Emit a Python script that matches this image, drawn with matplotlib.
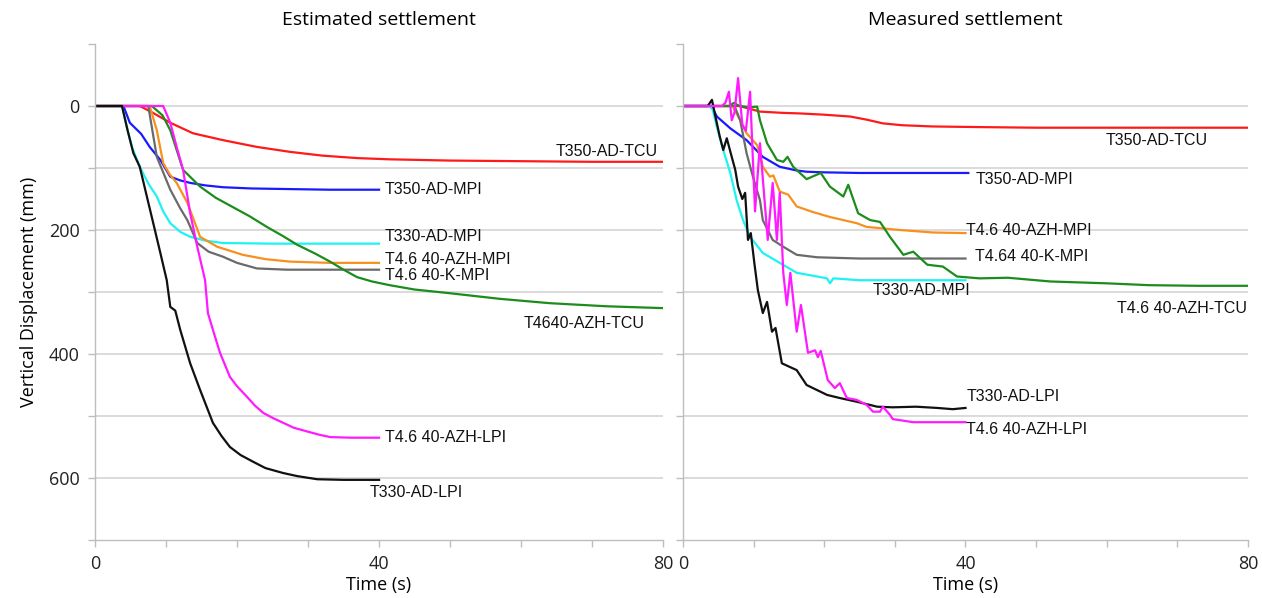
#!/usr/bin/env python3
"""Estimated vs measured settlement curves (two panels)."""

import matplotlib

matplotlib.use("Agg")
import matplotlib.pyplot as plt
from matplotlib.ticker import MultipleLocator

# ---- estimated settlement (left panel) ----
est_red_t = [0, 6.3, 8, 10.6, 13.8, 18, 22.8, 27.5, 32, 36.9, 41.5, 50, 60, 70, 80]
est_red_y = [0, 0, 10, 27, 44, 55, 66, 74, 80, 84, 86, 88, 89, 90, 90]

est_blue_t = [0, 4, 4.9, 6.5, 7.7, 9.2, 10.6, 12, 13.4, 15.5, 18, 22, 27.5, 33, 40]
est_blue_y = [0, 0, 27, 45, 66, 87, 114, 120, 124, 128, 131, 133, 134, 135, 135]

est_cyan_t = [0, 3.8, 4.5, 5.2, 6.3, 7.5, 8.7, 9.6, 10.6, 12, 13.4, 15.5, 18, 25, 40]
est_cyan_y = [0, 0, 35, 66, 98, 125, 146, 170, 189, 203, 211, 217, 221, 222, 222]

est_orange_t = [0, 7.7, 8.7, 9.6, 10.5, 11.5, 13, 14.8, 17.2, 20.8, 24, 27.5, 33, 40]
est_orange_y = [0, 0, 39, 92, 110, 124, 156, 211, 227, 240, 247, 251, 253, 253]

est_gray_t = [0, 7.5, 8.7, 10.6, 12, 13, 14.4, 16, 18, 20, 22.8, 27, 33, 40]
est_gray_y = [0, 0, 82, 135, 165, 184, 221, 235, 243, 253, 262, 264, 264, 264]

est_green_t = [0, 8, 9.5, 10.6, 12.4, 14.8, 17, 19.4, 21.8, 24.2, 26.5, 28.5, 31,
               33.1, 35, 36.9, 39, 41.5, 45, 50, 57, 64, 72, 80]
est_green_y = [0, 0, 15, 39, 103, 130, 148, 163, 178, 195, 210, 224, 238,
               251, 264, 276, 283, 289, 296, 302, 311, 318, 323, 326]

est_magenta_t = [0, 9.6, 10.6, 11.5, 12.4, 13.4, 14.4, 15.5, 15.9, 16.6, 17.6, 19,
                 20, 21.4, 22.5, 23.7, 25, 26.5, 28, 29.9, 31.5, 33.1, 36, 40]
est_magenta_y = [0, 0, 27, 66, 103, 173, 227, 281, 334, 361, 398, 437,
                 452, 469, 483, 495, 503, 511, 519, 525, 530, 534, 535, 535]

est_black_t = [0, 3.8, 4.6, 5.4, 6.3, 7.3, 8.2, 9.2, 10.1, 10.6, 11.3, 12, 13.4,
               14.8, 16.6, 17.8, 19, 20.5, 22.3, 24, 26.5, 28.5, 31.3, 35, 40]
est_black_y = [0, 0, 40, 76, 98, 146, 189, 237, 281, 324, 330, 361, 415,
               458, 511, 532, 550, 563, 574, 584, 592, 597, 602, 603, 603]

# ---- measured settlement (right panel) ----
mea_red_t = [0, 8, 10.9, 14, 16.6, 20, 23.7, 26, 28.3, 31, 35.4, 42, 50, 60, 70, 80]
mea_red_y = [0, 0, 9, 11, 12, 14, 17, 22, 28, 31, 33, 34, 35, 35, 35, 35]

mea_blue_t = [0, 4, 4.8, 6.7, 9, 11.3, 13.7, 16.1, 17.5, 20, 25, 30, 40.4]
mea_blue_y = [0, 0, 17, 36, 55, 82, 98, 104, 106, 107, 108, 108, 108]

mea_green_t = [0, 6.5, 7.2, 8, 9.5, 10.5, 10.9, 11.9, 13.3, 14.2, 14.8, 15.6, 17.5,
               19.5, 20.8, 22.7, 23.4, 24.8, 26.5, 27.9, 29.3, 31.2, 32.6, 34.6,
               36.8, 38.8, 42, 46, 52, 60, 66, 73, 80]
mea_green_y = [0, 0, -5, 0, 2, 1, 23, 60, 87, 90, 82, 98, 118,
               108, 130, 146, 127, 173, 184, 187, 211, 240, 235, 256,
               259, 275, 278, 277, 283, 286, 289, 290, 290]

mea_orange_t = [0, 7, 8.1, 9, 10.5, 11.3, 12.3, 12.8, 13.7, 14.9, 16.1, 18.4, 20.8,
                24.6, 26, 30.7, 35.4, 40]
mea_orange_y = [0, 0, 23, 44, 63, 98, 114, 112, 138, 143, 162, 171, 179,
                189, 195, 200, 204, 205]

mea_gray_t = [0, 7.3, 8.1, 9, 9.9, 10.9, 11.3, 12.7, 14.2, 16.1, 19, 25, 40]
mea_gray_y = [0, 0, 23, 76, 114, 152, 184, 216, 227, 240, 244, 246, 246]

mea_cyan_t = [0, 3.6, 4.2, 4.8, 5.7, 6.7, 7.6, 8.5, 9.5, 11.3, 13.7, 16.1, 19, 20.4,
              20.8, 21.3, 25, 30, 40]
mea_cyan_y = [0, 0, 5, 34, 71, 108, 152, 184, 211, 237, 253, 269, 275, 278,
              286, 278, 281, 281, 281]

mea_black_t = [0, 3.5, 4.1, 4.5, 5.2, 5.7, 6.2, 6.9, 7.4, 7.8, 8.4, 8.8, 9.2, 9.6,
               10.1, 10.6, 11.3, 11.9, 12.6, 13.1, 14, 16.1, 17.5, 20.4, 22.2,
               24.6, 27.5, 29.7, 33, 36, 38.2, 40]
mea_black_y = [0, 0, -10, 12, 49, 71, 52, 82, 103, 130, 150, 140, 216, 205,
               253, 297, 334, 316, 364, 358, 415, 426, 450, 466, 471,
               477, 485, 486, 485, 487, 489, 487]

mea_magenta_t = [0, 5.5, 6.0, 6.5, 6.9, 7.3, 7.8, 8.4, 8.9, 9.5, 10.2, 10.9, 12.0,
                 12.7, 13.3, 13.7, 14.2, 14.7, 15.2, 16.1, 16.7, 17.7, 18.7, 19.1,
                 19.5, 20.5, 21.5, 22.2, 23.2, 24.6, 26, 26.9, 27.9, 28.3, 29.3,
                 29.7, 32.6, 40]
mea_magenta_y = [0, 0, -5, -23, 23, 10, -45, 30, 40, -23, 170, 60, 216,
                 124, 216, 140, 269, 321, 269, 364, 321, 398, 394, 405,
                 395, 442, 455, 447, 471, 474, 482, 493, 493, 485, 498,
                 505, 510, 510]

est_labels = ["T350-AD-TCU", "T350-AD-MPI", "T330-AD-MPI", "T4.6 40-AZH-MPI",
              "T4.6 40-K-MPI", "T4640-AZH-TCU", "T4.6 40-AZH-LPI", "T330-AD-LPI"]
mea_labels = ["T350-AD-TCU", "T350-AD-MPI", "T4.6 40-AZH-MPI", "T4.64 40-K-MPI",
              "T330-AD-MPI", "T4.6 40-AZH-TCU", "T330-AD-LPI", "T4.6 40-AZH-LPI"]

# label anchor positions (left edge, vertical centre)
est_label_pos = [(64.8, 73), (40.8, 135), (40.8, 210), (40.8, 247),
                 (40.8, 273), (60.4, 350), (40.8, 534), (38.7, 623)]
mea_label_pos = [(59.8, 56), (41.5, 119), (40.1, 200), (41.4, 242),
                 (26.8, 298), (61.5, 326), (40.1, 468), (40.1, 521)]

RED = "#ff1a1a"
BLUE = "#1a1aff"
CYAN = "#1ff2f2"
ORANGE = "#f7901e"
GRAY = "#6a6a6a"
GREEN = "#1c8c1c"
MAGENTA = "#ff1aff"
BLACK = "#111111"

AXIS_FONT = "Open Sans"
LABEL_FONT = "Liberation Sans"
SPINE = "#bdbdbd"

fig = plt.figure(figsize=(12.62, 5.98), dpi=100)
ax_est = fig.add_axes([0.0753, 0.097, 0.4501, 0.8294])
ax_mea = fig.add_axes([0.5412, 0.097, 0.4477, 0.8294])

est_series = [
    (est_red_t, est_red_y, RED),
    (est_blue_t, est_blue_y, BLUE),
    (est_cyan_t, est_cyan_y, CYAN),
    (est_orange_t, est_orange_y, ORANGE),
    (est_gray_t, est_gray_y, GRAY),
    (est_green_t, est_green_y, GREEN),
    (est_magenta_t, est_magenta_y, MAGENTA),
    (est_black_t, est_black_y, BLACK),
]
mea_series = [
    (mea_red_t, mea_red_y, RED),
    (mea_blue_t, mea_blue_y, BLUE),
    (mea_orange_t, mea_orange_y, ORANGE),
    (mea_gray_t, mea_gray_y, GRAY),
    (mea_green_t, mea_green_y, GREEN),
    (mea_cyan_t, mea_cyan_y, CYAN),
    (mea_black_t, mea_black_y, BLACK),
    (mea_magenta_t, mea_magenta_y, MAGENTA),
]


def style_axes(ax, title, show_ylabels):
    ax.set_xlim(0, 80)
    ax.set_ylim(700, -100)
    ax.xaxis.set_major_locator(MultipleLocator(40))
    ax.xaxis.set_minor_locator(MultipleLocator(10))
    ax.yaxis.set_major_locator(MultipleLocator(200))
    ax.yaxis.set_minor_locator(MultipleLocator(100))
    for y in range(0, 700, 100):
        ax.axhline(y, color="#d4d4d4", linewidth=1.2, zorder=0)
    for side in ("top", "right"):
        ax.spines[side].set_visible(False)
    for side in ("left", "bottom"):
        ax.spines[side].set_color(SPINE)
        ax.spines[side].set_linewidth(1.0)
    ax.tick_params(which="both", direction="out", color=SPINE, width=1.0)
    ax.tick_params(which="major", length=5, labelsize=13, pad=6)
    ax.tick_params(which="minor", length=5)
    for lab in ax.get_xticklabels() + ax.get_yticklabels():
        lab.set_fontfamily(AXIS_FONT)
        lab.set_color("#222222")
    if not show_ylabels:
        ax.tick_params(axis="y", labelleft=False)
    ax.set_xlabel("Time (s)", fontsize=13, fontfamily=AXIS_FONT, labelpad=2)
    ax.set_title(title, fontsize=14, fontfamily=AXIS_FONT, pad=14)


for ax, series, labels, positions in [
    (ax_est, est_series, est_labels, est_label_pos),
    (ax_mea, mea_series, mea_labels, mea_label_pos),
]:
    for t, y, color in series:
        ax.plot(t, y, color=color, linewidth=1.6, solid_joinstyle="round")
    for text, (x, y) in zip(labels, positions):
        ax.text(x, y, text, fontsize=11.5, fontfamily=LABEL_FONT,
                ha="left", va="center", color="#111111")

style_axes(ax_est, "Estimated settlement", True)
style_axes(ax_mea, "Measured settlement", False)
ax_est.set_ylabel("Vertical Displacement (mm)", fontsize=13,
                  fontfamily=AXIS_FONT, labelpad=8)

fig.savefig("out.png", dpi=100)
